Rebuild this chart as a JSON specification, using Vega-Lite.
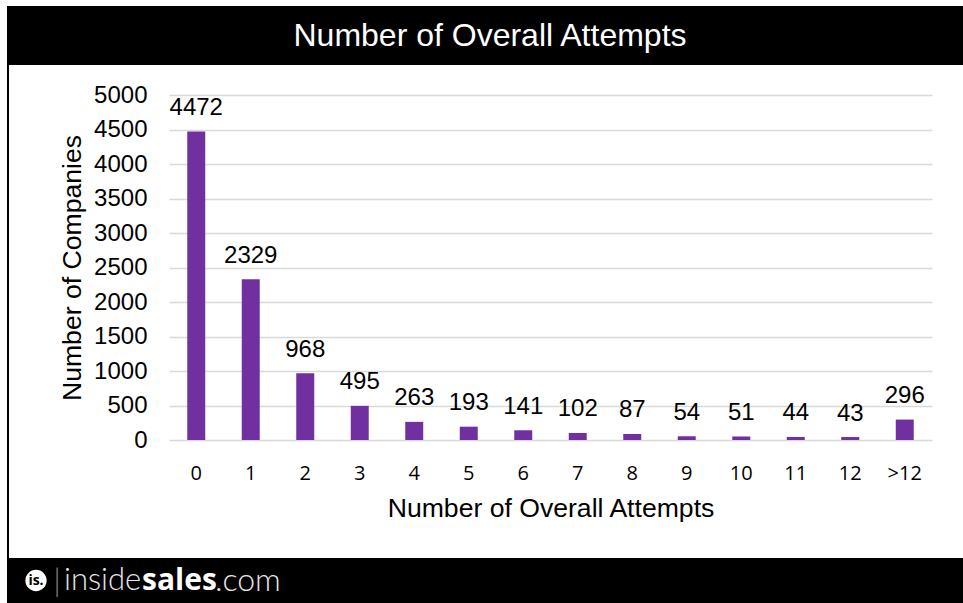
{
  "$schema": "https://vega.github.io/schema/vega-lite/v6.json",
  "background": "white",
  "padding": {"left": 7, "top": 6, "right": 0, "bottom": 0},
  "config": {"view": {"stroke": null}, "font": "Liberation Sans"},
  "spacing": 0,
  "bounds": "full",
  "vconcat": [
    {
      "width": 956,
      "height": 59,
      "view": {"fill": "black", "stroke": null},
      "data": {"values": [{"heading": "Number of Overall Attempts"}]},
      "mark": {"type": "text", "color": "white", "fontSize": 32, "dx": 5, "font": "Liberation Sans"},
      "encoding": {"text": {"field": "heading", "type": "nominal"}}
    },
    {
      "spacing": 0,
      "bounds": "flush",
      "hconcat": [
        {
          "width": 2,
          "height": 493,
          "view": {"fill": "black", "stroke": null},
          "data": {"values": [{"blank": ""}]},
          "mark": {"type": "text"},
          "encoding": {"text": {"field": "blank", "type": "nominal"}}
        },
        {
          "width": 160,
          "height": 493,
          "data": {"values": [{"blank": ""}]},
          "mark": {"type": "text"},
          "encoding": {"text": {"field": "blank", "type": "nominal"}}
        },
        {
          "width": 763,
          "height": 493,
          "data": {
            "values": [
              {"attempts": "0", "companies": 4472},
              {"attempts": "1", "companies": 2329},
              {"attempts": "2", "companies": 968},
              {"attempts": "3", "companies": 495},
              {"attempts": "4", "companies": 263},
              {"attempts": "5", "companies": 193},
              {"attempts": "6", "companies": 141},
              {"attempts": "7", "companies": 102},
              {"attempts": "8", "companies": 87},
              {"attempts": "9", "companies": 54},
              {"attempts": "10", "companies": 51},
              {"attempts": "11", "companies": 44},
              {"attempts": "12", "companies": 43},
              {"attempts": ">12", "companies": 296}
            ]
          },
          "encoding": {
            "x": {
              "field": "attempts",
              "type": "nominal",
              "sort": null,
              "scale": {"paddingInner": 0.67, "paddingOuter": 0.335},
              "axis": {
                "title": "Number of Overall Attempts",
                "titleFont": "Liberation Sans",
                "titleFontSize": 26.6,
                "titleFontWeight": "normal",
                "titleColor": "black",
                "titlePadding": 12,
                "labelFont": "Open Sans",
                "labelFontSize": 20,
                "labelColor": "black",
                "labelAngle": 0,
                "labelPadding": 23,
                "ticks": false,
                "domain": false,
                "grid": false,
                "offset": -118
              }
            },
            "y": {
              "field": "companies",
              "type": "quantitative",
              "scale": {"domain": [0, 5000], "range": [375, 30]},
              "axis": {
                "title": "Number of Companies",
                "titleFont": "Liberation Sans",
                "titleFontSize": 26.6,
                "titleFontWeight": "normal",
                "titleColor": "black",
                "titlePadding": 7,
                "labelFont": "Liberation Sans",
                "labelFontSize": 24,
                "labelColor": "black",
                "labelPadding": 22,
                "values": [0, 500, 1000, 1500, 2000, 2500, 3000, 3500, 4000, 4500, 5000],
                "format": "d",
                "ticks": false,
                "domain": false,
                "grid": true,
                "gridColor": "#d9d9d9",
                "gridWidth": 1.5
              }
            }
          },
          "layer": [
            {"mark": {"type": "bar", "color": "#7030a0"}},
            {
              "mark": {"type": "text", "baseline": "alphabetic", "dy": -16.5, "fontSize": 24, "color": "black", "font": "Liberation Sans"},
              "encoding": {"text": {"field": "companies", "type": "quantitative", "format": "d"}}
            }
          ]
        },
        {
          "width": 31,
          "height": 493,
          "data": {"values": [{"blank": ""}]},
          "mark": {"type": "text"},
          "encoding": {"text": {"field": "blank", "type": "nominal"}}
        }
      ]
    },
    {
      "width": 956,
      "height": 45,
      "view": {"fill": "black", "stroke": null},
      "layer": [
        {
          "data": {"values": [{"badge": "is."}]},
          "mark": {"type": "point", "filled": true, "color": "white", "opacity": 1, "size": 452, "xOffset": -449}
        },
        {
          "data": {"values": [{"badge": "is."}]},
          "mark": {"type": "text", "color": "black", "fontSize": 14, "fontWeight": "bold", "font": "Open Sans", "dx": -449},
          "encoding": {"text": {"field": "badge", "type": "nominal"}}
        },
        {
          "data": {"values": [{"bar": "|"}]},
          "mark": {"type": "text", "color": "#808080", "fontSize": 32, "fontWeight": 300, "font": "Lato", "dx": -428},
          "encoding": {"text": {"field": "bar", "type": "nominal"}}
        },
        {
          "data": {"values": [{"word": "inside"}]},
          "mark": {"type": "text", "align": "left", "color": "#e6e6e6", "fontSize": 31, "fontWeight": 300, "font": "Lato", "dx": -421},
          "encoding": {"text": {"field": "word", "type": "nominal"}}
        },
        {
          "data": {"values": [{"word": "sales"}]},
          "mark": {"type": "text", "align": "left", "color": "white", "fontSize": 30, "fontWeight": "bold", "font": "Open Sans", "dx": -343},
          "encoding": {"text": {"field": "word", "type": "nominal"}}
        },
        {
          "data": {"values": [{"word": ".com"}]},
          "mark": {"type": "text", "align": "left", "color": "#e6e6e6", "fontSize": 32, "fontWeight": 300, "font": "Lato", "dx": -270},
          "encoding": {"text": {"field": "word", "type": "nominal"}}
        }
      ]
    }
  ]
}
